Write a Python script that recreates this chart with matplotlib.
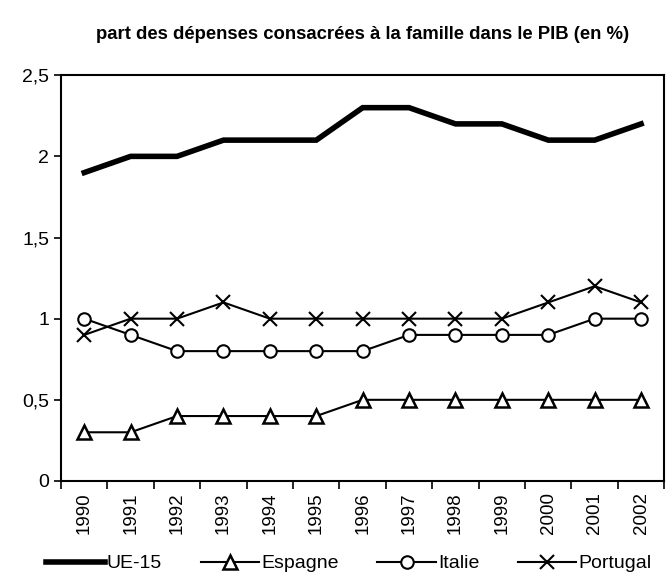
import matplotlib.pyplot as plt
from matplotlib.ticker import FuncFormatter

plt.rcParams['font.family'] = ['Liberation Sans', 'DejaVu Sans']

# ------------------ DATA ------------------
years = ['1990', '1991', '1992', '1993', '1994', '1995', '1996',
         '1997', '1998', '1999', '2000', '2001', '2002']
ue15 = [1.9, 2.0, 2.0, 2.1, 2.1, 2.1, 2.3, 2.3, 2.2, 2.2, 2.1, 2.1, 2.2]
espagne = [0.3, 0.3, 0.4, 0.4, 0.4, 0.4, 0.5, 0.5, 0.5, 0.5, 0.5, 0.5, 0.5]
italie = [1.0, 0.9, 0.8, 0.8, 0.8, 0.8, 0.8, 0.9, 0.9, 0.9, 0.9, 1.0, 1.0]
portugal = [0.9, 1.0, 1.0, 1.1, 1.0, 1.0, 1.0, 1.0, 1.0, 1.0, 1.1, 1.2, 1.1]
y_ticks = [0, 0.5, 1, 1.5, 2, 2.5]
# ------------------------------------------

fig = plt.figure(figsize=(6.71, 5.83), dpi=100)
ax = fig.add_axes([0.091, 0.175, 0.899, 0.696])

x = list(range(len(years)))

ax.plot(x, ue15, color='black', linewidth=4, solid_capstyle='projecting',
        solid_joinstyle='miter', label='UE-15')
ax.plot(x, espagne, color='black', linewidth=1.5, marker='^', markersize=10,
        markerfacecolor='white', markeredgewidth=1.8, label='Espagne')
ax.plot(x, italie, color='black', linewidth=1.5, marker='o', markersize=9,
        markerfacecolor='white', markeredgewidth=1.5, label='Italie')
ax.plot(x, portugal, color='black', linewidth=1.5, marker='x', markersize=10,
        markeredgewidth=1.5, label='Portugal')

ax.set_xlim(-0.5, len(years) - 0.5)
ax.set_ylim(0, 2.5)
ax.set_yticks(y_ticks)
ax.yaxis.set_major_formatter(FuncFormatter(lambda v, p: f'{v:g}'.replace('.', ',')))
ax.tick_params(axis='y', labelsize=14, direction='out', length=5, width=1.2)

# category labels at centers, tick marks at boundaries
ax.set_xticks(x)
ax.set_xticklabels(years, rotation=90, fontsize=13.5)
ax.tick_params(axis='x', which='major', length=0, pad=8)
ax.set_xticks([i - 0.5 for i in range(len(years) + 1)], minor=True)
ax.tick_params(axis='x', which='minor', direction='out', length=6, width=1.2)

for s in ax.spines.values():
    s.set_linewidth(1.5)

fig.suptitle('part des dépenses consacrées à la famille dans le PIB (en %)',
             x=0.54, y=0.955, fontsize=13.3, fontweight='bold')

fig.legend(loc='lower center', ncol=4, frameon=False, fontsize=14,
           bbox_to_anchor=(0.52, -0.012), handlelength=3.0, columnspacing=2.0,
           handletextpad=0.1)

fig.savefig('out.png', dpi=100, facecolor='white')
